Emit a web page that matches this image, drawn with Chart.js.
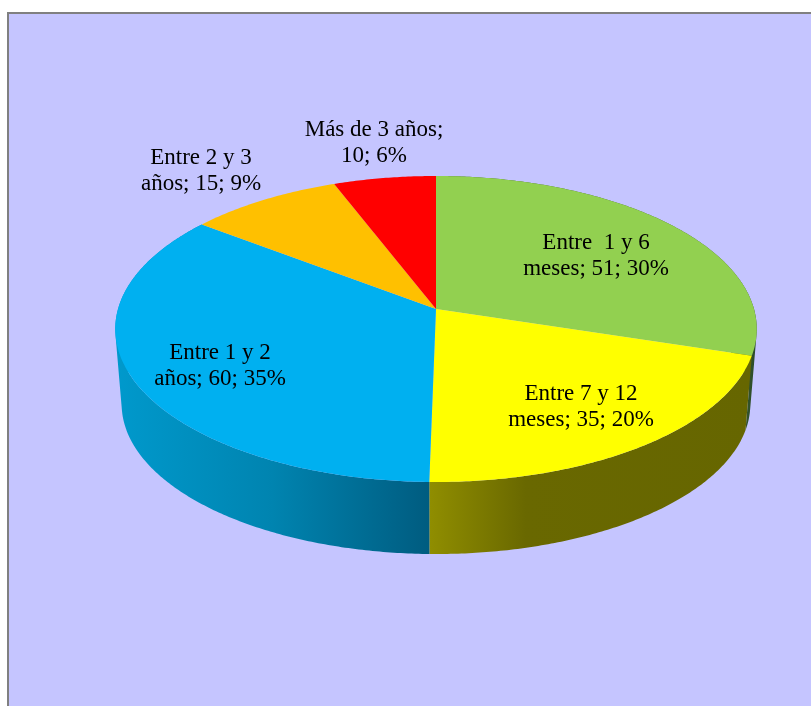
<!DOCTYPE html>
<html>
<head>
<meta charset="utf-8">
<style>
  html, body { margin: 0; background: #fff; overflow: hidden; }
  #marco { position: absolute; left: 7px; top: 12px; width: 900px; height: 800px; box-sizing: border-box;
           background: #c5c5ff; border: 2px solid #808080; }
  #grafico { position: absolute; left: 0; top: 0; }
</style>
<script src="https://cdn.jsdelivr.net/npm/chart.js@4"></script>
</head>
<body>
<div id="marco"></div>
<canvas id="grafico" width="811" height="706"></canvas>
<script>
const categorias = ['Entre  1 y 6 meses', 'Entre 7 y 12 meses', 'Entre 1 y 2 años', 'Entre 2 y 3 años', 'Más de 3 años'];
const valores = [51, 35, 60, 15, 10];
const colores = ['#92d050', '#ffff00', '#00b0f0', '#ffc000', '#ff0000'];
const etiquetas = [
  ['Entre  1 y 6', 'meses; 51; 30%'],
  ['Entre 7 y 12', 'meses; 35; 20%'],
  ['Entre 1 y 2', 'años; 60; 35%'],
  ['Entre 2 y 3', 'años; 15; 9%'],
  ['Más de 3 años;', '10; 6%']
];
const centrosEtiquetas = [[596, 256], [581, 407], [220, 366], [201, 171], [374, 143]];

// lateral del pastel: degradado horizontal por porcion [x0, x1, paradas]
const paredes = [
  [735, 756, [[0, '#3f5f2c'], [1, '#2a4a2a']]],
  [429, 752, [[0, '#908e00'], [0.3, '#696800'], [1, '#666600']]],
  [116, 429, [[0, '#0099cc'], [0.5, '#0084b0'], [1, '#005c80']]],
  null,
  null
];

// perspectiva: circulo de Chart.js -> elipse con el vertice descentrado
const escalaX = 1.06, escalaY = 0.5013, fuga = -0.1307;
const escalaBase = 0.98, bajadaBase = 75.5;

function proyectar(arco, ang, base) {
  const r = arco.outerRadius;
  const u = Math.cos(ang), v = Math.sin(ang);
  const d = 1 + fuga * v;
  const k = base ? escalaBase : 1;
  return [
    arco.x + k * r * escalaX * u / d,
    arco.y + k * r * escalaY * v / d + (base ? bajadaBase : 0)
  ];
}

function muestrear(arco) {
  const angs = [];
  const n = Math.ceil((arco.endAngle - arco.startAngle) / 0.01);
  for (let i = 0; i <= n; i++) angs.push(arco.startAngle + (arco.endAngle - arco.startAngle) * i / n);
  return angs;
}

// cada tira con la misma orientacion, si no el pliegue del borde deja un hueco
function agregarTira(ctx, a, b, c, e) {
  const area = (b[0] - a[0]) * (c[1] - a[1]) - (b[1] - a[1]) * (c[0] - a[0])
             + (c[0] - a[0]) * (e[1] - a[1]) - (c[1] - a[1]) * (e[0] - a[0]);
  const pts = area >= 0 ? [a, b, c, e] : [e, c, b, a];
  ctx.moveTo(...pts[0]);
  pts.slice(1).forEach(p => ctx.lineTo(...p));
  ctx.closePath();
}

const pastel3d = {
  id: 'pastel3d',
  beforeDatasetsDraw(chart) {
    const ctx = chart.ctx;
    const arcos = chart.getDatasetMeta(0).data;
    arcos.forEach((arco, i) => {
      const p = paredes[i];
      if (!p) return;
      const g = ctx.createLinearGradient(p[0], 0, p[1], 0);
      p[2].forEach(s => g.addColorStop(s[0], s[1]));
      const angs = muestrear(arco);
      ctx.beginPath();
      for (let j = 0; j < angs.length - 1; j++) {
        agregarTira(ctx,
          proyectar(arco, angs[j], false), proyectar(arco, angs[j + 1], false),
          proyectar(arco, angs[j + 1], true), proyectar(arco, angs[j], true));
      }
      ctx.fillStyle = g;
      ctx.fill();
    });
    arcos.forEach((arco, i) => {
      ctx.beginPath();
      ctx.moveTo(arco.x, arco.y);
      muestrear(arco).forEach(a => ctx.lineTo(...proyectar(arco, a, false)));
      ctx.closePath();
      ctx.fillStyle = colores[i];
      ctx.fill();
    });
    return false;
  },
  afterDraw(chart) {
    const ctx = chart.ctx;
    ctx.fillStyle = '#000';
    ctx.font = '23px "Liberation Serif"';
    ctx.textAlign = 'center';
    ctx.textBaseline = 'middle';
    etiquetas.forEach((lineas, i) => {
      ctx.fillText(lineas[0], centrosEtiquetas[i][0], centrosEtiquetas[i][1] - 13);
      ctx.fillText(lineas[1], centrosEtiquetas[i][0], centrosEtiquetas[i][1] + 13);
    });
  }
};

new Chart(document.getElementById('grafico'), {
  type: 'pie',
  data: {
    labels: categorias,
    datasets: [{ data: valores, backgroundColor: colores, borderWidth: 0 }]
  },
  options: {
    responsive: false,
    animation: false,
    layout: { padding: { left: 136, right: 75, top: 9, bottom: 97 } },
    plugins: { legend: { display: false }, tooltip: { enabled: false } }
  },
  plugins: [pastel3d]
});
</script>
</body>
</html>
